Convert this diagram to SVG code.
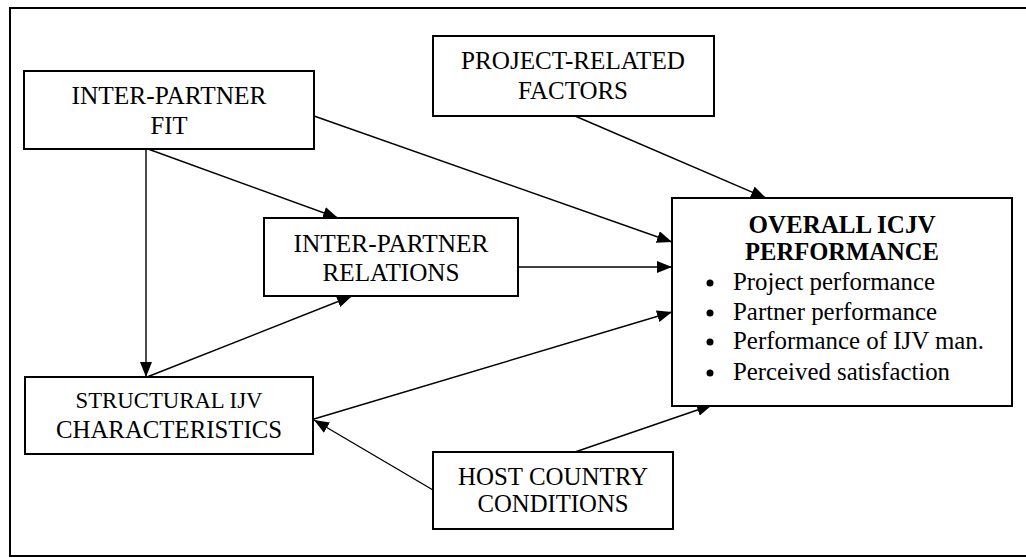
<svg xmlns="http://www.w3.org/2000/svg" width="1026" height="558" viewBox="0 0 1026 558">
<style>
.box{fill:#fff;stroke:#000;stroke-width:2}
.t{font-family:"Liberation Serif","Times New Roman",serif;font-size:24.5px;fill:#000;text-anchor:middle}
.s{font-size:23px}
.b{font-weight:bold}
.l{text-anchor:start}
.c line{stroke:#000;stroke-width:1.4;marker-end:url(#ah)}
</style>
<defs>
<marker id="ah" markerUnits="userSpaceOnUse" markerWidth="16" markerHeight="12" refX="15" refY="6" orient="auto">
<path d="M0,0 L15,6 L0,12 Z" fill="#000"/>
</marker>
</defs>
<rect x="10" y="8" width="1024" height="548" fill="#fff" stroke="#000" stroke-width="2"/>
<g class="c">
<line x1="314" y1="116" x2="672" y2="242"/>
<line x1="575" y1="116" x2="766" y2="198"/>
<line x1="148" y1="149" x2="338" y2="218"/>
<line x1="146" y1="149" x2="146" y2="377"/>
<line x1="518" y1="267" x2="672" y2="267"/>
<line x1="147" y1="377" x2="352" y2="296"/>
<line x1="314" y1="419" x2="672" y2="312"/>
<line x1="433" y1="490" x2="314" y2="420"/>
<line x1="575" y1="452" x2="712" y2="405"/>
</g>
<g id="fit">
<rect class="box" x="24" y="71" width="290" height="78"/>
<text class="t" x="169" y="104" textLength="195" lengthAdjust="spacingAndGlyphs">INTER-PARTNER</text>
<text class="t" x="169" y="134" textLength="37" lengthAdjust="spacingAndGlyphs">FIT</text>
</g>
<g id="project">
<rect class="box" x="433" y="36" width="281" height="80"/>
<text class="t" x="573" y="69" textLength="224" lengthAdjust="spacingAndGlyphs">PROJECT-RELATED</text>
<text class="t" x="573" y="99" textLength="110" lengthAdjust="spacingAndGlyphs">FACTORS</text>
</g>
<g id="relations">
<rect class="box" x="264" y="218" width="254" height="78"/>
<text class="t" x="391" y="252" textLength="195" lengthAdjust="spacingAndGlyphs">INTER-PARTNER</text>
<text class="t" x="391" y="281" textLength="137" lengthAdjust="spacingAndGlyphs">RELATIONS</text>
</g>
<g id="overall">
<rect class="box" x="672" y="198" width="340" height="208"/>
<text class="t b" x="842" y="233" textLength="187" lengthAdjust="spacingAndGlyphs">OVERALL ICJV</text>
<text class="t b" x="842" y="260" textLength="194" lengthAdjust="spacingAndGlyphs">PERFORMANCE</text>
<circle cx="710" cy="283" r="3.5"/>
<circle cx="710" cy="313" r="3.5"/>
<circle cx="710" cy="342" r="3.5"/>
<circle cx="710" cy="373" r="3.5"/>
<text class="t l" x="733" y="290" textLength="202" lengthAdjust="spacingAndGlyphs">Project performance</text>
<text class="t l" x="733" y="320" textLength="204" lengthAdjust="spacingAndGlyphs">Partner performance</text>
<text class="t l" x="733" y="349" textLength="251" lengthAdjust="spacingAndGlyphs">Performance of IJV man.</text>
<text class="t l" x="733" y="380" textLength="217" lengthAdjust="spacingAndGlyphs">Perceived satisfaction</text>
</g>
<g id="structural">
<rect class="box" x="25" y="377" width="288" height="77"/>
<text class="t s" x="169" y="408" textLength="187" lengthAdjust="spacingAndGlyphs">STRUCTURAL IJV</text>
<text class="t" x="169" y="438" textLength="226" lengthAdjust="spacingAndGlyphs">CHARACTERISTICS</text>
</g>
<g id="host">
<rect class="box" x="433" y="452" width="240" height="77"/>
<text class="t" x="553" y="485" textLength="190" lengthAdjust="spacingAndGlyphs">HOST COUNTRY</text>
<text class="t" x="553" y="512" textLength="151" lengthAdjust="spacingAndGlyphs">CONDITIONS</text>
</g>
</svg>
